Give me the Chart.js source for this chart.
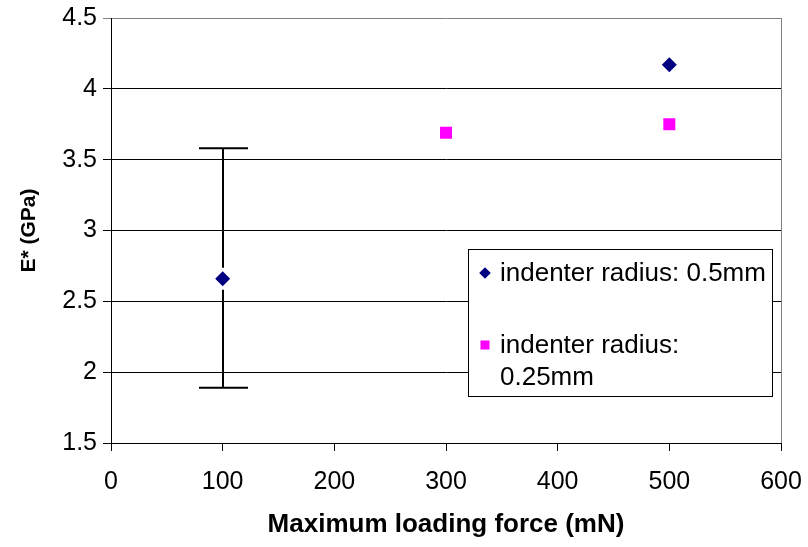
<!DOCTYPE html>
<html>
<head>
<meta charset="utf-8">
<script src="https://cdn.jsdelivr.net/npm/chart.js@4.4.1/dist/chart.umd.min.js"></script>
<style>
  body { margin: 0; background: #fff; }
  canvas { display: block; }
</style>
</head>
<body>
<canvas id="chartModulus" width="808" height="547"></canvas>
<script>
// indenter radius 0.5mm
const force05 = [100, 500];
const modulus05 = [2.66, 4.17];
const errLow05 = [1.89, null];
const errHigh05 = [3.58, null];

// indenter radius 0.25mm
const force025 = [300, 500];
const modulus025 = [3.69, 3.75];

const seriesLabels = [["indenter radius: 0.5mm"], ["indenter radius:", "0.25mm"]];

const xTicks = [0, 100, 200, 300, 400, 500, 600];
const yTicks = [1.5, 2, 2.5, 3, 3.5, 4, 4.5];

const FONT = "'Liberation Sans', Arial, sans-serif";

const errorBars = {
  id: "errorBars",
  beforeDatasetsDraw(chart) {
    const { ctx, scales } = chart;
    ctx.save();
    ctx.strokeStyle = "#000";
    ctx.lineWidth = 2;
    force05.forEach((f, i) => {
      if (errLow05[i] == null) return;
      const x = Math.round(scales.x.getPixelForValue(f));
      const yc = scales.y.getPixelForValue(modulus05[i]);
      const yl = scales.y.getPixelForValue(errLow05[i]);
      const yh = scales.y.getPixelForValue(errHigh05[i]);
      ctx.beginPath();
      ctx.moveTo(x, yh);
      ctx.lineTo(x, yc - 11);
      ctx.moveTo(x, yc + 11);
      ctx.lineTo(x, yl);
      ctx.moveTo(x - 24, yh);
      ctx.lineTo(x + 25, yh);
      ctx.moveTo(x - 24, yl);
      ctx.lineTo(x + 25, yl);
      ctx.stroke();
    });
    ctx.restore();
  },
  afterDraw(chart) {
    const { ctx, chartArea } = chart;
    ctx.save();
    // plot border on the right
    ctx.strokeStyle = "#808080";
    ctx.lineWidth = 1;
    ctx.beginPath();
    ctx.moveTo(Math.round(chartArea.right) + 0.5, chartArea.top);
    ctx.lineTo(Math.round(chartArea.right) + 0.5, chartArea.bottom);
    ctx.stroke();

    // legend box
    const bx = 468, by = 249, bw = 304, bh = 147;
    ctx.fillStyle = "#fff";
    ctx.fillRect(bx, by, bw, bh);
    ctx.strokeStyle = "#000";
    ctx.strokeRect(bx + 0.5, by + 0.5, bw, bh);

    ctx.font = "26px " + FONT;
    ctx.textBaseline = "middle";
    ctx.textAlign = "left";
    const rows = [273, 345];
    chart.data.datasets.forEach((ds, i) => {
      const cy = rows[i];
      ctx.fillStyle = ds.backgroundColor;
      Chart.helpers.drawPoint(ctx, {
        pointStyle: ds.pointStyle,
        radius: ds.pointStyle === "rect" ? 6.4 : 5.8,
        rotation: 0,
        borderWidth: 0
      }, 485, cy);
      ctx.fillStyle = "#000";
      seriesLabels[i].forEach((line, j) => {
        ctx.fillText(line, 500, cy + 1 + j * 32);
      });
    });
    ctx.restore();
  }
};

new Chart(document.getElementById("chartModulus"), {
  type: "scatter",
  data: {
    datasets: [
      {
        label: seriesLabels[0].join(" "),
        data: force05.map((x, i) => ({ x: x, y: modulus05[i] })),
        pointStyle: "rectRot",
        pointRadius: 7.5,
        backgroundColor: "#000080",
        borderWidth: 0
      },
      {
        label: seriesLabels[1].join(" "),
        data: force025.map((x, i) => ({ x: x, y: modulus025[i] })),
        pointStyle: "rect",
        pointRadius: 8.5,
        backgroundColor: "#FF00FF",
        borderWidth: 0
      }
    ]
  },
  options: {
    responsive: false,
    animation: false,
    layout: { padding: { left: 0, top: 18, right: 27, bottom: 0 } },
    plugins: {
      legend: { display: false },
      tooltip: { enabled: false }
    },
    scales: {
      x: {
        type: "linear",
        min: 0,
        max: 600,
        afterBuildTicks: (s) => { s.ticks = xTicks.map((v) => ({ value: v })); },
        afterFit: (s) => { s.height = 104; s.paddingLeft = 0; s.paddingRight = 0; },
        ticks: { color: "#000", padding: 16, font: { family: FONT, size: 25 }, callback: (v) => String(v) },
        grid: { drawOnChartArea: false, color: "#000", tickLength: 8 },
        border: { color: "#000" },
        title: {
          display: true,
          text: "Maximum loading force (mN)",
          color: "#000",
          font: { family: FONT, size: 26, weight: "bold" },
          padding: { top: 0, bottom: 7 }
        }
      },
      y: {
        min: 1.5,
        max: 4.5,
        afterBuildTicks: (s) => { s.ticks = yTicks.map((v) => ({ value: v })); },
        afterFit: (s) => { s.width = 111; s.paddingTop = 0; s.paddingBottom = 0; },
        ticks: { color: "#000", padding: 6, font: { family: FONT, size: 25 }, callback: (v) => String(v) },
        grid: {
          color: (c) => (c.tick && c.tick.value === 4.5 ? "#808080" : "#000"),
          tickLength: 8
        },
        border: { color: "#000" },
        title: {
          display: true,
          text: "E* (GPa)",
          color: "#000",
          font: { family: FONT, size: 21, weight: "bold" },
          padding: { top: 17, bottom: 0 }
        }
      }
    }
  },
  plugins: [errorBars]
});
</script>
</body>
</html>
